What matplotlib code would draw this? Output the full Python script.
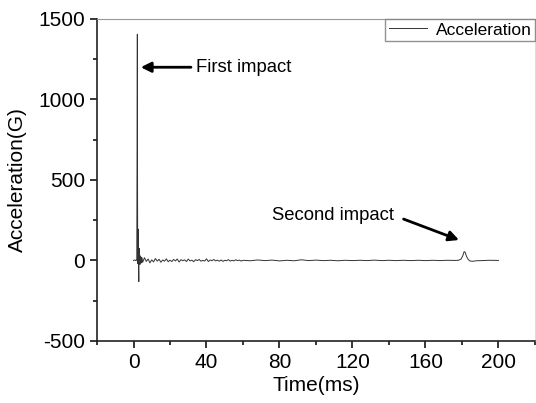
import matplotlib.pyplot as plt
from matplotlib.ticker import MultipleLocator

plt.rcParams['font.family'] = ['Liberation Sans', 'DejaVu Sans']
plt.rcParams['axes.unicode_minus'] = False

# acceleration trace (ms, G)
time_ms = [0.0, 0.8, 1.4, 1.8, 2.0, 2.1, 2.2, 2.3, 2.4, 2.5, 2.6, 2.7, 2.8, 2.9,
           3.0, 3.1, 3.2, 3.3, 3.5, 3.7, 3.9, 4.1, 4.4, 4.7,
           5, 6, 7, 8, 9, 10, 11, 12, 13, 14, 15, 16, 17, 18, 19, 20,
           21, 22, 23, 24, 25, 26, 27, 28, 29, 30, 31, 32, 33, 34, 35, 36,
           37, 38, 39, 40, 41, 42, 43, 44, 45, 46, 47, 48, 49, 50, 51, 52,
           53, 54, 55, 56, 57, 58, 59, 60,
           64, 68, 72, 76, 80, 84, 88, 92, 96, 100, 104, 108, 112, 116, 120,
           124, 128, 132, 136, 140, 144, 148, 152, 156, 160, 164, 168, 172, 176,
           178, 179.5, 180.5, 181.2, 181.8, 182.5, 183.5, 184.5, 186, 188, 191,
           195, 200]
accel_g = [0, 3, -2, 8, 960, 1405, 530, -20, 40, 195, 150, 20, -60, -131,
           60, 75, -10, 35, -25, 28, -18, 20, -14, 16,
           -12, 17, -6, 9, -15, 4, -9, 12, -4, 7, -11, 3, -5, 10, -8, 2,
           -7, 6, -3, 9, -10, 5, -2, 4, -7, 8, -3, 2, -8, 5, -1, 6,
           -5, 1, -4, 10, -7, 3, -2, 6, -3, 2, -5, 3, -6, 1, -2, 5,
           -4, 1, -3, 4, -1, 2, -4, 1,
           -2, 3, -1, 2, -3, 1, -2, 4, -1, 2, -1, 1, -2, 1, -1,
           1, -1, 2, -1, 1, -1, 1, -1, 1, -1, 1, -1, 1, 0,
           1, 8, 30, 55, 50, 25, 5, -4, -5, -2, -1,
           1, 0]

fig = plt.figure(figsize=(5.36, 4.03), dpi=100)
ax = fig.add_axes([0.181, 0.154, 0.817, 0.799])

ax.plot(time_ms, accel_g, color='#333333', lw=0.7, label='Acceleration')

ax.set_xlim(-20, 220)
ax.set_ylim(-500, 1500)
ax.xaxis.set_major_locator(MultipleLocator(40))
ax.xaxis.set_minor_locator(MultipleLocator(20))
ax.yaxis.set_major_locator(MultipleLocator(500))
ax.yaxis.set_minor_locator(MultipleLocator(250))
ax.tick_params(which='major', length=5, width=1.1, labelsize=15, direction='out')
ax.tick_params(which='minor', length=3, width=1.1, direction='out')

ax.set_xlabel('Time(ms)', fontsize=15, labelpad=3)
ax.set_ylabel('Acceleration(G)', fontsize=15, labelpad=8)

for side in ['left', 'bottom']:
    ax.spines[side].set_linewidth(1.2)
    ax.spines[side].set_color('#222222')
ax.spines['top'].set_color('#999999')
ax.spines['right'].set_color('#dddddd')

arrow = dict(arrowstyle='-|>,head_length=0.6,head_width=0.3', lw=2, color='k',
             shrinkA=0, shrinkB=0)
ax.annotate('', xy=(4, 1200), xytext=(31.5, 1200), arrowprops=arrow)
ax.text(34, 1200, 'First impact', fontsize=13.3, va='center')
ax.annotate('', xy=(178.4, 127), xytext=(148, 257), arrowprops=arrow)
ax.text(76, 278, 'Second impact', fontsize=13.3, va='center')

leg = ax.legend(loc='upper right', fontsize=12.5, borderaxespad=0, fancybox=False,
                handlelength=2.2, handletextpad=0.5, borderpad=0.2)
leg.get_frame().set_edgecolor('#777777')
leg.get_frame().set_linewidth(1)

fig.savefig('out.png')
